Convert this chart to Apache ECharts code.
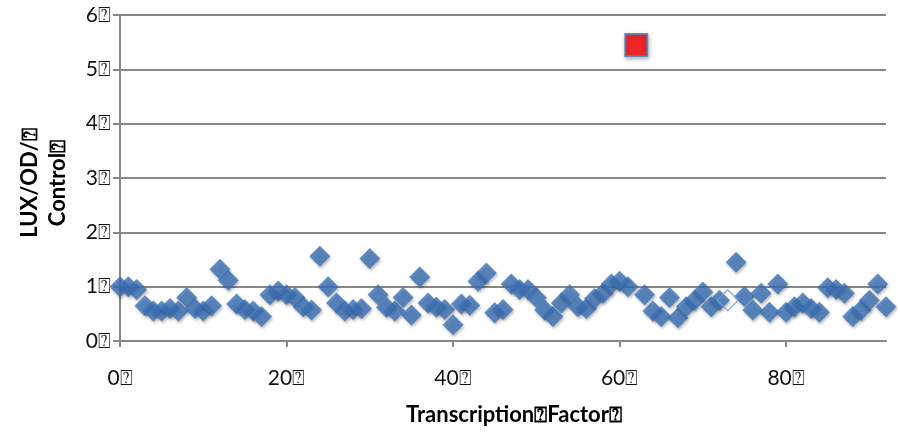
<!DOCTYPE html>
<html>
<head>
<meta charset="utf-8">
<script src="https://cdn.jsdelivr.net/npm/echarts@6/dist/echarts.min.js"></script>
<style>
  html, body { margin: 0; padding: 0; background: #ffffff; }
  #chart { width: 900px; height: 432px; }
</style>
</head>
<body>
<div id="chart"></div>
<script>
// Transcription factor index and the LUX/OD ratio relative to control
const factorIds = [
  0, 1, 2, 3, 4, 5, 6, 7, 8, 9,
  10, 11, 12, 13, 14, 15, 16, 17, 18, 19,
  20, 21, 22, 23, 24, 25, 26, 27, 28, 29,
  30, 31, 32, 33, 34, 35, 36, 37, 38, 39,
  40, 41, 42, 43, 44, 45, 46, 47, 48, 49,
  50, 51, 52, 53, 54, 55, 56, 57, 58, 59,
  60, 61, 62, 63, 64, 65, 66, 67, 68, 69,
  70, 71, 72, 73, 74, 75, 76, 77, 78, 79,
  80, 81, 82, 83, 84, 85, 86, 87, 88, 89,
  90, 91, 92
];
const luxOdRatio = [
  1.00, 1.00, 0.95, 0.65, 0.55, 0.55, 0.60, 0.55, 0.80, 0.60,
  0.55, 0.65, 1.32, 1.12, 0.68, 0.58, 0.55, 0.45, 0.85, 0.92,
  0.85, 0.80, 0.63, 0.57, 1.56, 1.00, 0.70, 0.55, 0.58, 0.60,
  1.52, 0.85, 0.62, 0.55, 0.80, 0.48, 1.18, 0.70, 0.62, 0.58,
  0.30, 0.68, 0.66, 1.10, 1.25, 0.52, 0.58, 1.05, 0.95, 0.95,
  0.80, 0.57, 0.45, 0.70, 0.85, 0.63, 0.60, 0.78, 0.88, 1.05,
  1.10, 1.00, 5.45, 0.85, 0.55, 0.45, 0.80, 0.43, 0.63, 0.75,
  0.90, 0.63, 0.75, 0.75, 1.45, 0.82, 0.57, 0.88, 0.53, 1.05,
  0.53, 0.63, 0.70, 0.60, 0.53, 0.98, 0.95, 0.88, 0.45, 0.57,
  0.75, 1.05, 0.63
];
// Factor drawn as a red square, and one drawn as an unfilled diamond
const highlightFactor = 62;
const unfilledFactor = 73;

const xTicks = [0, 20, 40, 60, 80];
const BOX = '\u2370';

const blueData = [], redData = [], hollowData = [];
factorIds.forEach((id, i) => {
  const pt = [id, luxOdRatio[i]];
  if (id === highlightFactor) redData.push(pt);
  else if (id === unfilledFactor) hollowData.push(pt);
  else blueData.push(pt);
});

const FONT = 'Lato, "Open Sans", sans-serif';
const GRID_GREY = '#878787';

const chart = echarts.init(document.getElementById('chart'), null, { renderer: 'canvas' });
chart.setOption({
  animation: false,
  backgroundColor: '#ffffff',
  grid: { left: 120, right: 14, top: 15, bottom: 91, containLabel: false },
  xAxis: {
    type: 'value',
    min: 0,
    max: 92,
    interval: 20,
    name: 'Transcription' + BOX + 'Factor' + BOX,
    nameLocation: 'middle',
    nameGap: 63,
    nameTextStyle: { fontFamily: FONT, fontWeight: 'bold', fontSize: 22, color: '#000', padding: [0, 0, 0, 22] },
    axisLine: { show: true, onZero: true, lineStyle: { color: GRID_GREY, width: 2 } },
    axisTick: { show: true, length: 6, customValues: xTicks, lineStyle: { color: GRID_GREY, width: 2 } },
    axisLabel: {
      customValues: xTicks,
      margin: 27,
      fontFamily: FONT, fontSize: 21, color: '#111',
      formatter: v => v + BOX
    },
    splitLine: { show: false }
  },
  yAxis: {
    type: 'value',
    min: 0,
    max: 6,
    interval: 1,
    name: 'LUX/OD/' + BOX + '\nControl' + BOX,
    nameLocation: 'middle',
    nameGap: 48,
    nameTextStyle: { fontFamily: FONT, fontWeight: 'bold', fontSize: 22, color: '#000', lineHeight: 28, padding: [0, 10, 0, 0] },
    axisLine: { show: true, lineStyle: { color: GRID_GREY, width: 2 } },
    axisTick: { show: true, length: 7, lineStyle: { color: GRID_GREY, width: 2 } },
    axisLabel: {
      margin: 9,
      fontFamily: FONT, fontSize: 21, color: '#111',
      formatter: v => v + BOX
    },
    splitLine: { show: true, lineStyle: { color: GRID_GREY, width: 2 } }
  },
  series: [
    {
      type: 'scatter',
      data: blueData,
      symbol: 'diamond',
      symbolSize: 21,
      clip: false,
      itemStyle: {
        color: '#3b71b7',
        shadowBlur: 3,
        shadowColor: 'rgba(0,0,0,0.35)',
        shadowOffsetX: 1,
        shadowOffsetY: 2
      }
    },
    {
      type: 'scatter',
      data: hollowData,
      symbol: 'diamond',
      symbolSize: 21,
      clip: false,
      itemStyle: {
        color: 'rgba(255,255,255,0)',
        borderColor: '#7a9ccc',
        borderWidth: 1.5
      }
    },
    {
      type: 'scatter',
      data: redData,
      symbol: 'rect',
      symbolSize: 22,
      clip: false,
      itemStyle: {
        color: '#ff0000',
        borderColor: '#4a7ebb',
        borderWidth: 2,
        shadowBlur: 4,
        shadowColor: 'rgba(0,0,0,0.35)',
        shadowOffsetX: 1,
        shadowOffsetY: 2
      }
    }
  ]
});
</script>
</body>
</html>
